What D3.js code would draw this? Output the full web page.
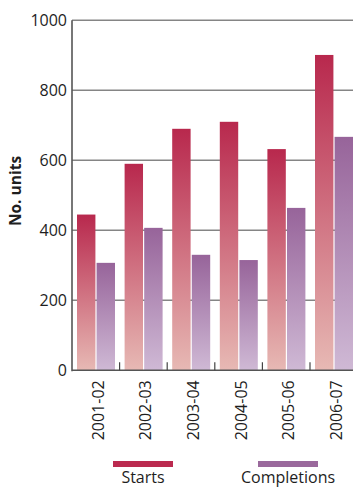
<!DOCTYPE html>
<html>
<head>
<meta charset="utf-8">
<script src="https://cdn.jsdelivr.net/npm/d3@7"></script>
<style>
  html, body { margin: 0; padding: 0; background: #fff; }
  svg { display: block; font-family: "Open Sans", sans-serif; }
</style>
</head>
<body>
<svg id="chart" width="353" height="488"></svg>
<script>
// Housing units started and completed per year
const years = ["2001-02", "2002-03", "2003-04", "2004-05", "2005-06", "2006-07"];
const seriesNames = ["Starts", "Completions"];
const starts = [445, 590, 690, 710, 632, 901];
const completions = [307, 407, 330, 315, 464, 667];
const yTicks = [0, 200, 400, 600, 800, 1000];

const rows = years.map((y, i) => ({ year: y, Starts: starts[i], Completions: completions[i] }));

const svg = d3.select("#chart");
const W = 353, H = 488;
const left = 72, baseY = 370.3, topY = 20.3;

const x = d3.scaleBand().domain(years).range([left, left + 6 * 47.6]).padding(0);
const xSub = d3.scaleBand().domain(seriesNames).range([5, 43]).paddingInner(0.06).paddingOuter(0);
const y = d3.scaleLinear().domain([0, 1000]).range([baseY, topY]);

// vertical gradients, dark at top fading to pale at bottom
const defs = svg.append("defs");
const grads = {
  Starts: ["#b8284d", "#e7b9b4"],
  Completions: ["#97649a", "#cfb9d5"]
};
Object.entries(grads).forEach(([k, [c0, c1]]) => {
  const g = defs.append("linearGradient").attr("id", "g-" + k)
    .attr("x1", 0).attr("y1", 0).attr("x2", 0).attr("y2", 1);
  g.append("stop").attr("offset", "0%").attr("stop-color", c0);
  g.append("stop").attr("offset", "100%").attr("stop-color", c1);
});

// horizontal gridlines
svg.append("g").selectAll("line").data(yTicks.filter(d => d > 0)).join("line")
  .attr("x1", left).attr("x2", W)
  .attr("y1", d => y(d)).attr("y2", d => y(d))
  .attr("stroke", "#858585").attr("stroke-width", 1.6);

// bars
const groups = svg.append("g").selectAll("g").data(rows).join("g")
  .attr("transform", d => `translate(${x(d.year)},0)`);
groups.selectAll("rect").data(d => seriesNames.map(k => ({ key: k, value: d[k] }))).join("rect")
  .attr("x", d => xSub(d.key))
  .attr("width", xSub.bandwidth())
  .attr("y", d => y(d.value))
  .attr("height", d => baseY - y(d.value))
  .attr("fill", d => `url(#g-${d.key})`);

// y axis with labels
const yAxis = d3.axisLeft(y).tickValues(yTicks).tickSize(0).tickPadding(5).tickFormat(d3.format("d"));
const ya = svg.append("g").attr("transform", `translate(${left},0)`).call(yAxis);
ya.select(".domain").remove();
ya.selectAll("text").attr("font-size", 16).attr("fill", "#1e1e1e").attr("font-family", "Open Sans");

svg.append("line").attr("x1", left).attr("x2", left).attr("y1", topY).attr("y2", baseY + 1)
  .attr("stroke", "#555").attr("stroke-width", 1.6);
svg.append("line").attr("x1", left).attr("x2", W).attr("y1", baseY).attr("y2", baseY)
  .attr("stroke", "#555").attr("stroke-width", 1.6);

// small inward ticks between year groups
svg.append("g").selectAll("line").data(years.slice(1)).join("line")
  .attr("x1", d => x(d)).attr("x2", d => x(d))
  .attr("y1", baseY - 8).attr("y2", baseY)
  .attr("stroke", "#444").attr("stroke-width", 1.2);

// year labels, rotated
svg.append("g").selectAll("text").data(years).join("text")
  .attr("transform", d => `translate(${x(d) + x.bandwidth() / 2 + 2},${baseY + 10}) rotate(-90)`)
  .attr("text-anchor", "end").attr("dominant-baseline", "central")
  .attr("font-size", 16).attr("fill", "#1e1e1e")
  .text(d => d);

// y axis title
svg.append("text")
  .attr("transform", `translate(15,191) rotate(-90)`)
  .attr("text-anchor", "middle").attr("dominant-baseline", "central")
  .attr("font-size", 15.5).attr("font-weight", "bold").attr("fill", "#1e1e1e")
  .text("No. units");

// legend
const legendColors = { Starts: "#bb2a4f", Completions: "#9a699c" };
const legendX = { Starts: 143, Completions: 288 };
const leg = svg.append("g").selectAll("g").data(seriesNames).join("g")
  .attr("transform", d => `translate(${legendX[d]},0)`);
leg.append("rect").attr("x", -30).attr("y", 461).attr("width", 60).attr("height", 6)
  .attr("fill", d => legendColors[d]);
leg.append("text").attr("x", 0).attr("y", 483).attr("text-anchor", "middle")
  .attr("font-size", 16).attr("fill", "#1e1e1e").text(d => d);
</script>
</body>
</html>
